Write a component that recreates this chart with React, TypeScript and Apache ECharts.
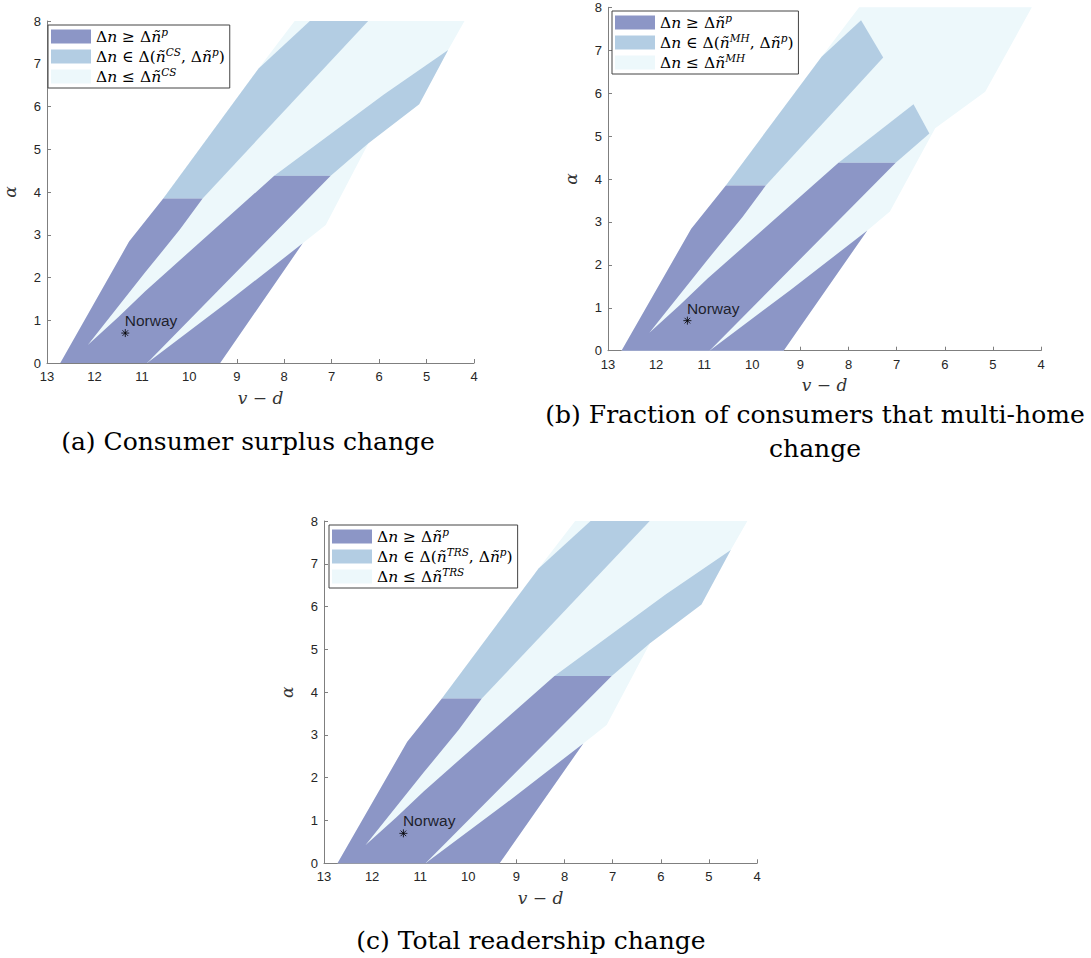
import React, { useEffect, useRef } from "react";
import * as echarts from "echarts";

// ---------- data (v - d, alpha) ----------
const norway = [[11.35, 0.7]];

// panel (a) and (c): consumer surplus / total readership
const lightA = [[12.72, 0], [11.27, 2.84], [10.55, 3.85], [8.54, 6.89], [7.78, 8], [4.2, 8], [4.545, 7.32], [5.155, 6.05], [6.225, 5.14], [7.125, 3.23], [7.61, 2.8], [9.35, 0]];
const midA1 = [[10.55, 3.85], [8.54, 6.89], [7.46, 8], [6.23, 8], [9.72, 3.85]];
const midA2 = [[8.21, 4.38], [5.9, 6.28], [4.545, 7.32], [5.155, 6.05], [6.225, 5.14], [7.02, 4.38]];

// panel (b): multi-homing fraction
const lightB = [[12.72, 0], [11.27, 2.84], [10.55, 3.85], [8.56, 6.85], [7.78, 8], [4.19, 8], [5.16, 6.03], [6.2, 5.18], [7.14, 3.24], [7.61, 2.8], [9.35, 0]];
const midB1 = [[10.55, 3.85], [8.56, 6.85], [7.74, 7.7], [7.28, 6.83], [9.72, 3.85]];
const midB2 = [[8.21, 4.38], [6.65, 5.74], [6.32, 5.06], [7.02, 4.38]];

// dark region shared by all panels
const darkMain = [[12.72, 0], [11.27, 2.84], [10.55, 3.85], [9.72, 3.85], [10.2, 3.12], [10.93, 2.12], [12.14, 0.42], [11.5, 1.07], [10.93, 1.68], [9.6, 3.0], [8.21, 4.38], [7.02, 4.38], [10.89, 0]];
const darkLow = [[10.89, 0], [9.2, 1.42], [7.61, 2.8], [9.35, 0]];

const nameDark = "Δn ≥ Δñ^p";
const namesMid = ["Δn ∈ Δ(ñ^CS, Δñ^p)", "Δn ∈ Δ(ñ^MH, Δñ^p)", "Δn ∈ Δ(ñ^TRS, Δñ^p)"];
const namesLight = ["Δn ≤ Δñ^CS", "Δn ≤ Δñ^MH", "Δn ≤ Δñ^TRS"];
const captions = ["(a) Consumer surplus change", "(b) Fraction of consumers that multi-home\nchange", "(c) Total readership change"];

const C_DARK = "#8c96c6";
const C_MID = "#b3cde3";
const C_LIGHT = "#edf8fb";

const SERIF = "DejaVu Serif";
const SANS = "Liberation Sans";

function richName(name: string): string {
  const parts = name.split(/(\^\w+)/);
  let out = "";
  for (const part of parts) {
    if (!part) continue;
    if (part.startsWith("^")) {
      out += "{sup|" + part.slice(1) + "}";
    } else {
      let buf = "";
      for (const ch of part) {
        if (ch === "n" || ch === "ñ") {
          if (buf) out += "{rm|" + buf + "}";
          buf = "";
          out += "{it|" + ch + "}";
        } else buf += ch;
      }
      if (buf) out += "{rm|" + buf + "}";
    }
  }
  return out;
}

function polySeries(name: string, color: string, polys: number[][][], gi: number) {
  return {
    type: "custom",
    name,
    xAxisIndex: gi,
    yAxisIndex: gi,
    itemStyle: { color },
    encode: { x: 0, y: 1 },
    silent: true,
    data: polys.map((p, i) => [p[0][0], p[0][1], i]),
    renderItem: (params: any, api: any) => {
      const poly = polys[api.value(2)];
      const pts = poly.map((pt) => api.coord(pt));
      return { type: "polygon", shape: { points: pts }, style: { fill: color, stroke: null } };
    },
  };
}

const grids = [
  { left: 40, top: 21, width: 434, height: 342 },
  { left: 608, top: 7.3, width: 433, height: 343.4 },
  { left: 324, top: 521, width: 433, height: 342.3 },
];
const legendPos = [
  { left: 48, top: 25 },
  { left: 612, top: 11 },
  { left: 329, top: 525 },
];
const captionPos = [
  { x: 248, y: 441 },
  { x: 815, y: 431 },
  { x: 531, y: 940 },
];

export default function App() {
  const ref = useRef<HTMLDivElement>(null);
  useEffect(() => {
    if (!ref.current) return;
    const chart = echarts.init(ref.current, undefined, { renderer: "svg" });
    const lightPolys = [[lightA], [lightB], [lightA]];
    const midPolys = [[midA1, midA2], [midB1, midB2], [midA1, midA2]];
    const series: any[] = [];
    for (let g = 0; g < 3; g++) {
      series.push(polySeries(namesLight[g], C_LIGHT, lightPolys[g], g));
      series.push(polySeries(namesMid[g], C_MID, midPolys[g], g));
      series.push(polySeries(nameDark, C_DARK, [darkMain, darkLow], g));
      series.push({
        type: "scatter",
        xAxisIndex: g,
        yAxisIndex: g,
        data: norway,
        symbol: "path://M0,-1L0,1M-1,0L1,0M-0.7,-0.7L0.7,0.7M-0.7,0.7L0.7,-0.7",
        symbolSize: 8,
        itemStyle: { color: "rgba(0,0,0,0)", borderColor: "#000", borderWidth: 1 },
        silent: true,
        label: {
          show: true,
          formatter: "Norway",
          position: [4, 0],
          align: "left",
          verticalAlign: "bottom",
          fontFamily: SANS,
          fontSize: 15.5,
          color: "#000",
        },
      });
    }
    const axisLineStyle = { lineStyle: { color: "#7f7f7f", width: 1 } };
    const richStyles = {
      rm: { fontFamily: SERIF, fontSize: 15.5, lineHeight: 20, color: "#000" },
      it: { fontFamily: SERIF, fontStyle: "italic", fontSize: 15.5, lineHeight: 20, color: "#000" },
      sup: { fontFamily: SERIF, fontStyle: "italic", fontSize: 10.5, lineHeight: 10, verticalAlign: "top", color: "#000" },
    };
    const option: any = {
      animation: false,
      grid: grids.map((g) => ({ ...g, containLabel: false })),
      xAxis: grids.map((_, i) => ({
        type: "value",
        gridIndex: i,
        min: 4,
        max: 13,
        interval: 1,
        inverse: true,
        name: "v − d",
        nameLocation: "middle",
        nameGap: 26,
        nameTextStyle: { fontFamily: SERIF, fontStyle: "italic", fontSize: 17, color: "#333" },
        axisLine: { show: true, ...axisLineStyle },
        axisTick: { show: true, inside: true, length: 4, lineStyle: { color: "#7f7f7f" } },
        axisLabel: { fontFamily: SANS, fontSize: 13, color: "#262626", margin: 7 },
        splitLine: { show: false },
      })),
      yAxis: grids.map((_, i) => ({
        type: "value",
        gridIndex: i,
        min: 0,
        max: 8,
        interval: 1,
        name: "α",
        nameLocation: "middle",
        nameGap: 29,
        nameRotate: 90,
        nameTextStyle: { fontFamily: SERIF, fontStyle: "italic", fontSize: 17, color: "#333" },
        axisLine: { show: true, ...axisLineStyle },
        axisTick: { show: true, inside: true, length: 4, lineStyle: { color: "#7f7f7f" } },
        axisLabel: { fontFamily: SANS, fontSize: 13, color: "#262626", margin: 6 },
        splitLine: { show: false },
      })),
      legend: legendPos.map((p, i) => ({
        ...p,
        orient: "vertical",
        selectedMode: false,
        itemWidth: 40,
        itemHeight: 14,
        itemGap: 0,
        padding: [1.5, 5, 1.5, 3],
        borderColor: "#444",
        borderWidth: 1,
        borderRadius: 0,
        backgroundColor: "#fff",
        data: [nameDark, namesMid[i], namesLight[i]].map((n) => ({ name: n, icon: "rect" })),
        formatter: (name: string) => richName(name),
        textStyle: { rich: richStyles, fontFamily: SERIF, fontSize: 15.5, lineHeight: 20 },
      })),
      series,
      graphic: captions.map((t, i) => ({
        type: "text",
        x: captionPos[i].x,
        y: captionPos[i].y,
        silent: true,
        style: {
          text: t,
          fontFamily: SERIF,
          fontSize: 25,
          lineHeight: 34,
          fill: "#000",
          align: "center",
          verticalAlign: "middle",
        },
      })),
    };
    chart.setOption(option);
    return () => chart.dispose();
  }, []);
  return (
    <div
      ref={ref}
      style={{ position: "fixed", left: 0, top: 0, width: 1091, height: 958, background: "#fff" }}
    />
  );
}
